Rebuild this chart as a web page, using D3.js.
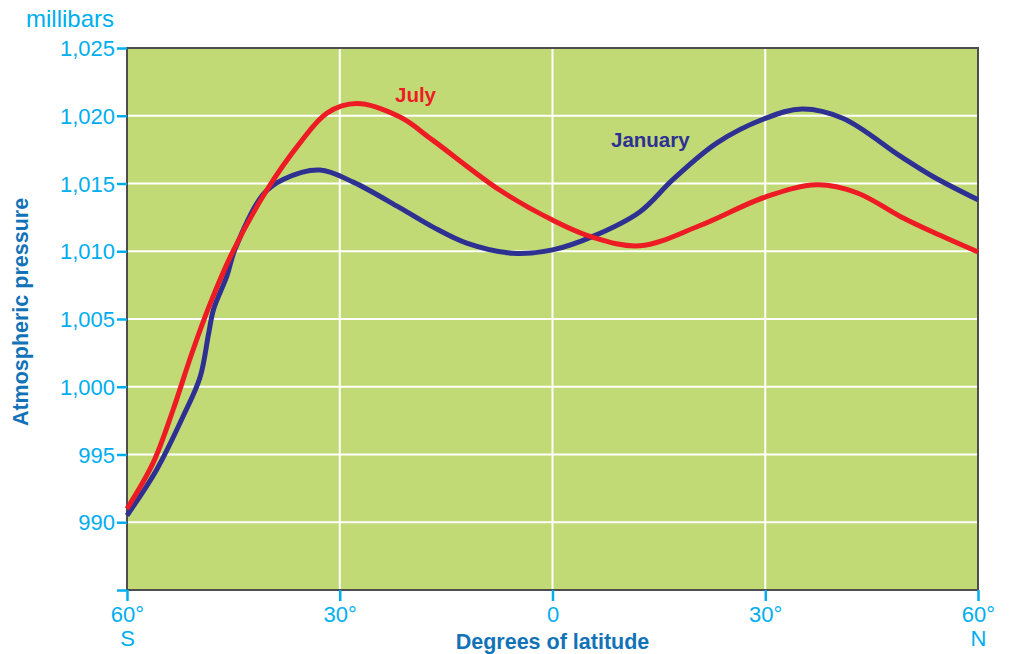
<!DOCTYPE html>
<html>
<head>
<meta charset="utf-8">
<script src="https://cdn.jsdelivr.net/npm/d3@7"></script>
<style>
  body { margin: 0; background: #fff; }
  svg { display: block; font-family: "Liberation Sans", Arial, sans-serif; }
</style>
</head>
<body>
<svg id="chart" width="1017" height="654"></svg>
<script>
// Data
const latitudesJuly = [-60, -56.3, -53.5, -50.9, -48.3, -45.2, -40.3, -35.6, -31.8, -27.6, -21.5, -16.9, -7.4, 0, 5.3, 12.3, 20.8, 30, 37.3, 43.0, 49.1, 53.7, 60];
const julyPressure  = [991.0, 994.4, 998.3, 1002.4, 1006.1, 1009.85, 1014.5, 1018.0, 1020.2, 1020.9, 1019.9, 1018.2, 1014.5, 1012.3, 1011.1, 1010.4, 1011.9, 1014.0, 1014.9, 1014.3, 1012.55, 1011.4, 1009.95];

const latitudesJan = [-60, -55.8, -52.1, -49.7, -48.5, -47.8, -45.9, -44.8, -40.8, -38.0, -32.8, -28.1, -21.5, -16.9, -12.1, -5.6, 0, 5.7, 12.3, 17.0, 23.2, 30, 35.2, 41.0, 49.1, 53.7, 60];
const januaryPressure = [990.5, 993.9, 997.8, 1000.7, 1003.9, 1005.7, 1008.2, 1010.1, 1014.2, 1015.3, 1016.0, 1015.1, 1013.2, 1011.8, 1010.6, 1009.85, 1010.1, 1011.1, 1012.9, 1015.3, 1018.0, 1019.8, 1020.5, 1019.8, 1017.0, 1015.5, 1013.8];

const yTicks = [985, 990, 995, 1000, 1005, 1010, 1015, 1020, 1025];
const yTickLabels = ["", "990", "995", "1,000", "1,005", "1,010", "1,015", "1,020", "1,025"];
const xTicks = [-60, -30, 0, 30, 60];
const xTickLabels = ["60°", "30°", "0", "30°", "60°"];
const xTickSubLabels = ["S", "", "", "", "N"];

const svg = d3.select("#chart");
const pLeft = 127, pRight = 978, pTop = 48, pBottom = 590;

const x = d3.scaleLinear().domain([-60, 60]).range([pLeft, pRight]);
const y = d3.scaleLinear().domain([985, 1025]).range([pBottom, pTop]);

const tickBlue = "#00aeef";
const titleBlue = "#1272b8";

// plot background
svg.append("rect")
  .attr("x", pLeft).attr("y", pTop)
  .attr("width", pRight - pLeft).attr("height", pBottom - pTop)
  .attr("fill", "#c2da76");

// grid lines
svg.append("g").selectAll("line")
  .data(yTicks.filter(d => d > 985 && d < 1025))
  .join("line")
  .attr("x1", pLeft).attr("x2", pRight)
  .attr("y1", d => y(d)).attr("y2", d => y(d))
  .attr("stroke", "#fff").attr("stroke-width", 2);

svg.append("g").selectAll("line")
  .data(xTicks.filter(d => d > -60 && d < 60))
  .join("line")
  .attr("x1", d => x(d)).attr("x2", d => x(d))
  .attr("y1", pTop).attr("y2", pBottom)
  .attr("stroke", "#fff").attr("stroke-width", 2);

// frame
svg.append("rect")
  .attr("x", pLeft).attr("y", pTop)
  .attr("width", pRight - pLeft).attr("height", pBottom - pTop)
  .attr("fill", "none").attr("stroke", "#4d4d4d").attr("stroke-width", 2);

// Y axis
const yAxis = d3.axisLeft(y)
  .tickValues(yTicks)
  .tickFormat((d, i) => yTickLabels[i])
  .tickSize(10).tickPadding(2);
const gy = svg.append("g").attr("transform", `translate(${pLeft},0)`).call(yAxis);
gy.select(".domain").remove();
gy.selectAll(".tick line").attr("stroke", tickBlue).attr("stroke-width", 2.5);
gy.selectAll(".tick text")
  .attr("fill", tickBlue)
  .attr("font-size", 22)
  .attr("font-family", "'Liberation Sans', Arial, sans-serif")
  .attr("dy", "0.35em");

// X axis
const xAxis = d3.axisBottom(x)
  .tickValues(xTicks)
  .tickFormat((d, i) => xTickLabels[i])
  .tickSize(11).tickPadding(5);
const gx = svg.append("g").attr("transform", `translate(0,${pBottom})`).call(xAxis);
gx.select(".domain").remove();
gx.selectAll(".tick line").attr("stroke", tickBlue).attr("stroke-width", 2.5);
gx.selectAll(".tick text")
  .attr("fill", tickBlue)
  .attr("font-size", 22)
  .attr("font-family", "'Liberation Sans', Arial, sans-serif");
gx.selectAll(".tick").append("text")
  .attr("y", 56)
  .attr("text-anchor", "middle")
  .attr("fill", tickBlue)
  .attr("font-size", 22)
  .text((d, i) => xTickSubLabels[i]);

// axis titles
svg.append("text")
  .attr("x", 26).attr("y", 27)
  .attr("fill", tickBlue)
  .attr("font-size", 24)
  .text("millibars");

svg.append("text")
  .attr("x", x(0)).attr("y", 649)
  .attr("text-anchor", "middle")
  .attr("fill", titleBlue)
  .attr("font-size", 21.5)
  .attr("font-weight", "bold")
  .text("Degrees of latitude");

svg.append("text")
  .attr("transform", `translate(28,${(197 + 427) / 2}) rotate(-90)`)
  .attr("text-anchor", "middle")
  .attr("fill", titleBlue)
  .attr("font-size", 21.5)
  .attr("font-weight", "bold")
  .text("Atmospheric pressure");

// lines
const line = d3.line()
  .x(d => x(d[0]))
  .y(d => y(d[1]))
  .curve(d3.curveCatmullRom.alpha(0.5));

const janData = latitudesJan.map((l, i) => [l, januaryPressure[i]]);
const julData = latitudesJuly.map((l, i) => [l, julyPressure[i]]);

svg.append("path")
  .datum(janData)
  .attr("d", line)
  .attr("fill", "none")
  .attr("stroke", "#2e3192")
  .attr("stroke-width", 5);

svg.append("path")
  .datum(julData)
  .attr("d", line)
  .attr("fill", "none")
  .attr("stroke", "#ed1c24")
  .attr("stroke-width", 5);

// series labels
svg.append("text")
  .attr("x", 395).attr("y", 102)
  .attr("fill", "#ed1c24")
  .attr("font-size", 20.5)
  .attr("font-weight", "bold")
  .text("July");

svg.append("text")
  .attr("x", 611).attr("y", 147)
  .attr("fill", "#2e3192")
  .attr("font-size", 20.5)
  .attr("font-weight", "bold")
  .text("January");
</script>
</body>
</html>
